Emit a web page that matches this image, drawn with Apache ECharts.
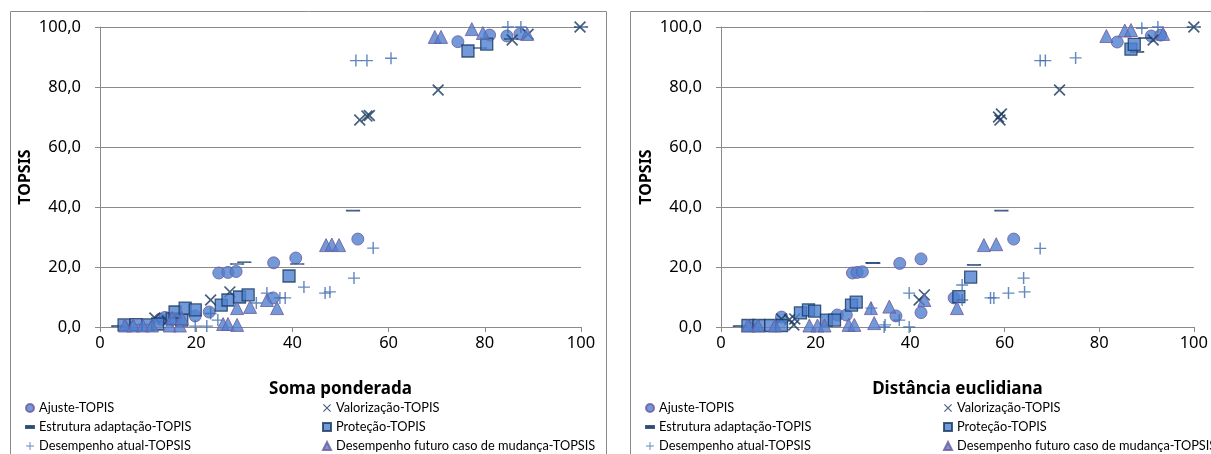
<!DOCTYPE html>
<html>
<head>
<meta charset="utf-8">
<script src="https://cdn.jsdelivr.net/npm/echarts@6/dist/echarts.min.js"></script>
<style>
  html, body { margin: 0; padding: 0; background: #fff; }
  #chart { width: 1211px; height: 454px; }
</style>
</head>
<body>
<div id="chart"></div>
<script>
// axis ticks
const xTicks = [0, 20, 40, 60, 80, 100];
const yTicks = [0, 20, 40, 60, 80, 100];

const seriesNames = [
  "Ajuste-TOPIS",
  "Valorização-TOPIS",
  "Estrutura adaptação-TOPIS",
  "Proteção-TOPIS",
  "Desempenho atual-TOPSIS",
  "Desempenho futuro caso de mudança-TOPSIS",
];

// Soma ponderada (x) vs TOPSIS (y)
const ajusteSP = [[12.5, 2.6], [13.5, 3.2], [19.8, 3.7], [22.7, 5], [24.7, 18], [26.6, 18.2], [28.3, 18.5], [36, 9.7], [36.1, 21.4], [40.7, 23], [53.6, 29.3], [74.4, 95.1], [81, 97.3], [84.6, 97], [87.3, 97.7]];
const valorizacaoSP = [[6, 0.5], [11.4, 3], [14, 2], [23, 9], [27, 11.7], [54, 69], [55.5, 70.3], [56, 70.5], [70.3, 79], [85.7, 95.7], [89, 97.6], [99.8, 100]];
const estruturaSP = [[3.8, 0.3], [9, 0.8], [28.5, 21], [30, 21.6], [41, 21], [52.6, 38.8], [79, 93], [85.5, 96], [100, 100]];
const protecaoSP = [[5, 0.7], [7.5, 0.8], [10, 0.7], [12, 1], [15, 2.7], [17, 2.3], [15.6, 5], [17.7, 6.3], [19.8, 5.7], [25.2, 7.3], [26.6, 9], [29, 10], [30.8, 10.7], [39.3, 17], [76.5, 92], [80.4, 94.3]];
const atualSP = [[19.8, 0.3], [22.2, 0.3], [23, 4.5], [24.5, 2.3], [32.5, 8], [34.7, 11.3], [37.4, 9.7], [38.5, 9.7], [42.4, 13.3], [46.8, 11.3], [47.8, 11.7], [52.8, 16.3], [56.8, 26.3], [53.2, 88.8], [55.5, 88.8], [60.5, 89.6], [84.8, 100], [87.5, 100]];
const futuroSP = [[5.2, 0.5], [6.9, 0.5], [8.9, 0.5], [10.8, 0.5], [14.5, 0.5], [16.6, 0.5], [15, 3], [17, 3], [25.6, 1], [26.6, 1], [28.5, 0.7], [28.5, 6.3], [31.2, 6.7], [34.7, 9], [36.8, 6.3], [47, 27.3], [48.2, 27.5], [49.7, 27.3], [69.6, 96.7], [70.9, 96.7], [77.3, 99.3], [79.6, 98], [88.8, 97.7]];

// Distância euclidiana (x) vs TOPSIS (y)
const ajusteDE = [[12.8, 3.3], [24.6, 4], [26.5, 4], [27.8, 18], [28.8, 18.2], [29.9, 18.4], [37, 3.7], [37.8, 21.2], [42.3, 4.8], [42.3, 22.7], [49.3, 9.7], [61.9, 29.3], [83.8, 95], [91, 97], [93, 97.3]];
const valorizacaoDE = [[7, 0.5], [12.8, 2.7], [14.5, 2.5], [15.6, 2.7], [15.4, 0.7], [41.9, 9], [43, 10.7], [58.7, 70], [59, 69], [59.3, 71], [71.6, 79], [91.4, 95.7], [100, 100]];
const estruturaDE = [[4, 0.3], [32.2, 21.3], [32, 21.4], [53.5, 20.7], [59.3, 38.8], [88, 91.7], [89.7, 96.3], [100, 100]];
const protecaoDE = [[5.7, 0.5], [8, 0.5], [10.5, 0.5], [12.8, 0.5], [16.8, 4.7], [18.5, 5.7], [19.8, 5.3], [22.3, 2.3], [24, 2.3], [27.6, 7.3], [28.6, 8.3], [50.3, 10.1], [52.8, 16.6], [86.7, 92.6], [87.4, 94.2]];
const atualDE = [[31.8, 6.3], [34.5, 0], [34.7, 0.7], [37.7, 2.3], [39.8, 0], [39.8, 11.3], [51, 14], [51, 9], [57, 9.7], [57.7, 9.7], [60.8, 11.3], [64, 16.3], [64.2, 11.7], [67.5, 26.2], [67.5, 88.8], [68.6, 88.8], [75, 89.7], [89, 99.6], [92.4, 100]];
const futuroDE = [[5.7, 0.5], [7.8, 0.5], [11.4, 0.5], [18.7, 0.5], [20.4, 0.5], [21.9, 0.5], [27, 0.7], [28.2, 0.7], [31.7, 6.3], [32.4, 1.3], [35.6, 6.8], [43, 9], [49.9, 6.3], [55.6, 27.3], [58.2, 27.6], [81.5, 97], [85.4, 98.8], [86.7, 99], [93.5, 97.7]];

const panelData = [
  [ajusteSP, valorizacaoSP, estruturaSP, protecaoSP, atualSP, futuroSP],
  [ajusteDE, valorizacaoDE, estruturaDE, protecaoDE, atualDE, futuroDE],
];

const FONT = "'Noto Sans', 'Liberation Sans', sans-serif";
const LEGEND_FONT = "Lato, 'Liberation Sans', sans-serif";
const GRAY = "#8a8a8a";
const FILL = "#4f81d0";
const NAVY = "#17375e";
const PURPLE = "#70589a";

const crossPath = "path://M0,1L1,0L10,9L9,10Z M9,0L10,1L1,10L0,9Z";
const plusPath = "path://M4.4,0h1.2v4.4h4.4v1.2h-4.4v4.4h-1.2v-4.4h-4.4v-1.2h4.4z";
const dashPath = "path://M0,0h12v3.2h-12z";

const markerStyles = [
  { symbol: "circle", symbolSize: 12, itemStyle: { color: FILL, borderColor: PURPLE, borderWidth: 1 } },
  { symbol: crossPath, symbolSize: 12, itemStyle: { color: NAVY } },
  { symbol: dashPath, symbolSize: [12, 3.5], symbolKeepAspect: true, itemStyle: { color: FILL, borderColor: NAVY, borderWidth: 1.2 } },
  { symbol: "rect", symbolSize: 12, itemStyle: { color: FILL, borderColor: NAVY, borderWidth: 1.3 } },
  { symbol: plusPath, symbolSize: 12, itemStyle: { color: "#3d6cb0" } },
  { symbol: "triangle", symbolSize: 13, itemStyle: { color: FILL, borderColor: PURPLE, borderWidth: 1 } },
];

const grids = [
  { left: 100, top: 27, width: 481, height: 300 },
  { left: 721, top: 27, width: 475, height: 300 },
];
const xNames = ["Soma ponderada", "Distância euclidiana"];

const fmt = (v) => v.toFixed(1).replace(".", ",");

const xAxes = grids.map((g, i) => ({
  type: "value",
  gridIndex: i,
  min: xTicks[0],
  max: xTicks[xTicks.length - 1],
  interval: 20,
  name: xNames[i],
  nameLocation: "middle",
  nameGap: 54,
  nameTextStyle: { fontFamily: FONT, fontWeight: "bold", fontSize: 17, color: "#000" },
  axisLine: { show: true, lineStyle: { color: GRAY, width: 1 } },
  axisTick: { show: true, length: 5, lineStyle: { color: GRAY } },
  axisLabel: { fontFamily: FONT, fontSize: 16.5, color: "#000", margin: 8 },
  splitLine: { show: false },
}));

const yAxes = grids.map((g, i) => ({
  type: "value",
  gridIndex: i,
  min: yTicks[0],
  max: yTicks[yTicks.length - 1],
  interval: 20,
  name: "TOPSIS",
  nameLocation: "middle",
  nameRotate: 90,
  nameGap: 67,
  nameTextStyle: { fontFamily: FONT, fontWeight: "bold", fontSize: 16, color: "#000" },
  axisLine: { show: true, lineStyle: { color: GRAY, width: 1 } },
  axisTick: { show: true, length: 5, lineStyle: { color: GRAY } },
  axisLabel: { fontFamily: FONT, fontSize: 16.5, color: "#000", margin: 19, formatter: fmt },
  splitLine: { show: true, lineStyle: { color: GRAY, width: 1 } },
}));

const series = [];
panelData.forEach((sets, p) => {
  sets.forEach((data, s) => {
    series.push(Object.assign({
      type: "scatter",
      name: seriesNames[s],
      xAxisIndex: p,
      yAxisIndex: p,
      data: data,
      z: 2 + s,
      emphasis: { disabled: true },
    }, markerStyles[s]));
  });
});

const legendBase = {
  orient: "vertical",
  top: 401,
  itemWidth: 8,
  itemHeight: 8,
  itemGap: 5,
  selectedMode: false,
  textStyle: { fontFamily: LEGEND_FONT, fontSize: 12.8, lineHeight: 14, color: "#000" },
  padding: 0,
};
const legendCols = [25, 322, 645, 943];
const legends = legendCols.map((left, i) => Object.assign({}, legendBase, {
  left: left,
  data: i % 2 === 0 ? [seriesNames[0], seriesNames[2], seriesNames[4]] : [seriesNames[1], seriesNames[3], seriesNames[5]],
}));

const chart = echarts.init(document.getElementById("chart"));
chart.setOption({
  animation: false,
  backgroundColor: "#fff",
  grid: grids,
  xAxis: xAxes,
  yAxis: yAxes,
  legend: legends,
  series: series,
  graphic: [
    { type: "rect", shape: { x: 10.5, y: 11.5, width: 596, height: 470 }, style: { fill: null, stroke: GRAY, lineWidth: 1 }, z: -1 },
    { type: "rect", shape: { x: 630.5, y: 11.5, width: 600, height: 470 }, style: { fill: null, stroke: GRAY, lineWidth: 1 }, z: -1 },
  ],
});
</script>
</body>
</html>
